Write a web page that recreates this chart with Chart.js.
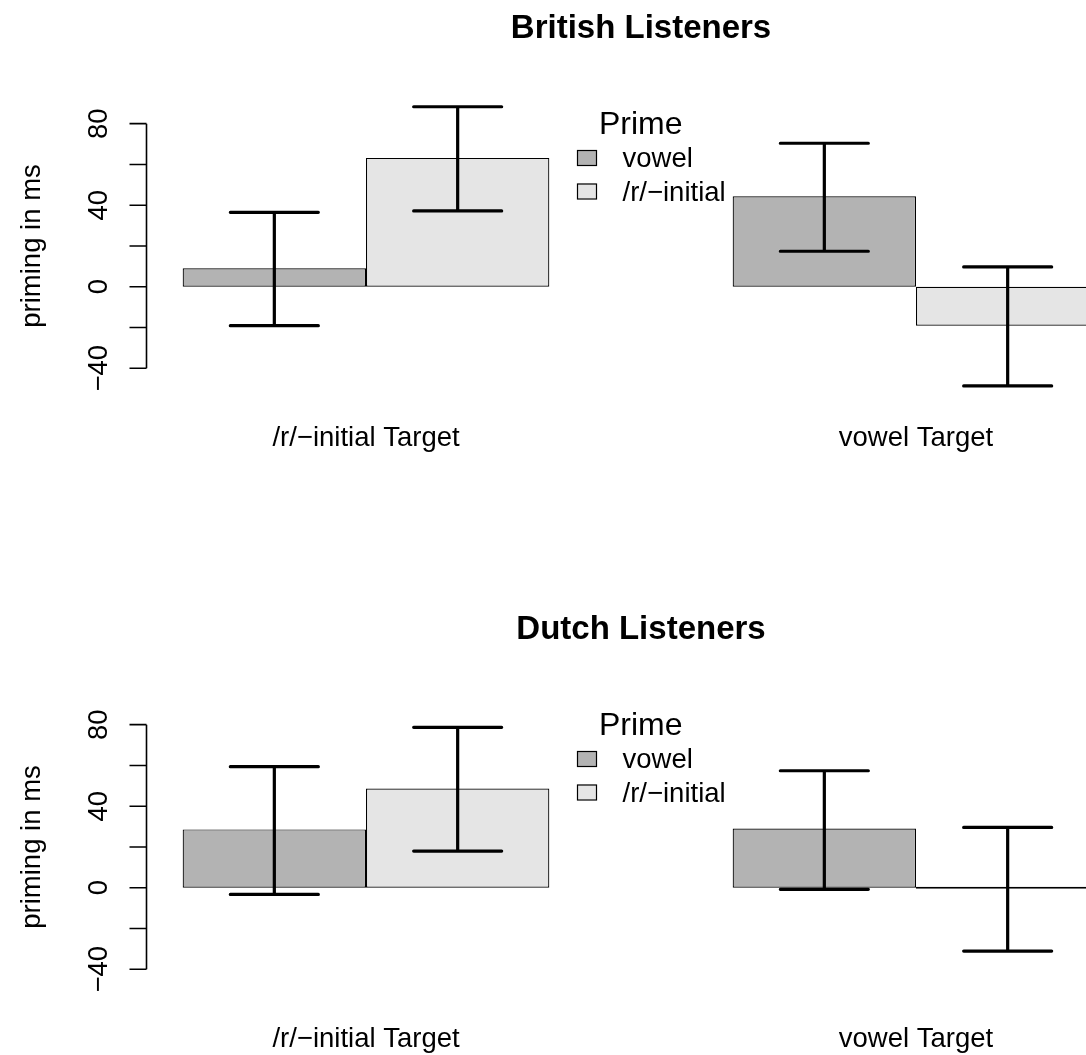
<!DOCTYPE html>
<html>
<head>
<meta charset="utf-8">
<script src="https://cdn.jsdelivr.net/npm/chart.js@4.4.1/dist/chart.umd.min.js"></script>
<style>
  html, body { margin: 0; padding: 0; background: #fff; overflow: hidden; }
  #page { position: relative; width: 1086px; height: 1055px; overflow: hidden; background: #fff; }
  #page canvas { position: absolute; left: 0; }
</style>
</head>
<body>
<div id="page">
  <canvas id="british" width="1278" height="601" style="top:0"></canvas>
  <canvas id="dutch" width="1278" height="601" style="top:601px"></canvas>
</div>
<script>
// categories (targets) and the two prime series
const targets = ['/r/\u2212initial Target', 'vowel Target'];
const primes = ['vowel', '/r/\u2212initial'];
const primeColors = ['#b3b3b3', '#e5e5e5'];

// British listeners: mean priming in ms, plus error bar ends
const britishVowel = [9.0, 44.4];
const britishR = [63.2, -19.1];
const britishVowelLow = [-19.1, 17.4];
const britishVowelHigh = [36.5, 70.4];
const britishRLow = [37.2, -48.7];
const britishRHigh = [88.3, 9.7];

// Dutch listeners
const dutchVowel = [28.6, 29.0];
const dutchR = [48.7, 0];
const dutchVowelLow = [-3.3, -0.8];
const dutchVowelHigh = [59.4, 57.4];
const dutchRLow = [18.0, -31.1];
const dutchRHigh = [78.7, 29.6];

// y axis ticks (R only prints every second label)
const yTicks = [-40, -20, 0, 20, 40, 60, 80];
const yTickLabels = ['\u221240', '', '0', '', '40', '', '80'];

const FONT = '"Liberation Sans", Arial, Helvetica, sans-serif';
Chart.defaults.font.family = FONT;
Chart.defaults.color = '#000';

// error bars drawn on top of each bar
const errorBars = {
  id: 'errorBars',
  afterDatasetsDraw(chart) {
    const ctx = chart.ctx;
    const y = chart.scales.y;
    ctx.save();
    ctx.strokeStyle = '#000';
    ctx.lineWidth = 3.2;
    ctx.lineCap = 'round';
    chart.data.datasets.forEach((ds, i) => {
      chart.getDatasetMeta(i).data.forEach((bar, j) => {
        const lo = y.getPixelForValue(ds.errLow[j]);
        const hi = y.getPixelForValue(ds.errHigh[j]);
        const half = bar.width * 0.24;
        ctx.beginPath();
        ctx.moveTo(bar.x, lo); ctx.lineTo(bar.x, hi);
        ctx.moveTo(bar.x - half, lo); ctx.lineTo(bar.x + half, lo);
        ctx.moveTo(bar.x - half, hi); ctx.lineTo(bar.x + half, hi);
        ctx.stroke();
      });
    });
    ctx.restore();
  }
};

// R style y axis: short line from -40 to 80, rotated labels
const rAxis = {
  id: 'rAxis',
  afterDraw(chart) {
    const { ctx, chartArea } = chart;
    const x = chart.scales.x, y = chart.scales.y;
    const step = x.getPixelForValue(1) - x.getPixelForValue(0);
    const ax = Math.round(x.getPixelForValue(0) - step * 0.4) + 0.5;
    ctx.save();
    ctx.strokeStyle = '#000';
    ctx.lineWidth = 1.6;
    ctx.beginPath();
    ctx.moveTo(ax, y.getPixelForValue(yTicks[0]));
    ctx.lineTo(ax, y.getPixelForValue(yTicks[yTicks.length - 1]));
    yTicks.forEach(v => {
      const py = y.getPixelForValue(v);
      ctx.moveTo(ax, py);
      ctx.lineTo(ax - 17, py);
    });
    ctx.stroke();

    ctx.fillStyle = '#000';
    ctx.font = '27.5px ' + FONT;
    ctx.textAlign = 'center';
    ctx.textBaseline = 'alphabetic';
    yTicks.forEach((v, i) => {
      if (!yTickLabels[i]) return;
      ctx.save();
      ctx.translate(ax - 40, y.getPixelForValue(v));
      ctx.rotate(-Math.PI / 2);
      ctx.fillText(yTickLabels[i], 0, 0);
      ctx.restore();
    });
    ctx.save();
    ctx.translate(ax - 107, (chartArea.top + chartArea.bottom) / 2);
    ctx.rotate(-Math.PI / 2);
    ctx.fillText('priming in ms', 0, 0);
    ctx.restore();
    ctx.restore();
  }
};

// legend with "Prime" title, placed inside the plot like R's legend()
const primeLegend = {
  id: 'primeLegend',
  afterDatasetsDraw(chart) {
    const ctx = chart.ctx;
    const left = 577, top = 133.5;
    ctx.save();
    ctx.fillStyle = '#000';
    ctx.textAlign = 'left';
    ctx.textBaseline = 'alphabetic';
    ctx.font = '32px ' + FONT;
    ctx.fillText('Prime', left + 22, top);
    ctx.font = '27.5px ' + FONT;
    chart.data.datasets.forEach((ds, i) => {
      const base = top + 33.5 * (i + 1);
      ctx.fillStyle = ds.backgroundColor;
      ctx.fillRect(left, base - 17, 19, 15);
      ctx.strokeStyle = '#000';
      ctx.lineWidth = 1.2;
      ctx.strokeRect(left + 0.5, base - 16.5, 19, 15);
      ctx.fillStyle = '#000';
      ctx.fillText(ds.label, left + 45.5, base);
    });
    ctx.restore();
  }
};

function makeChart(id, title, vowel, r, vLow, vHigh, rLow, rHigh) {
  const bars = [vowel, r];
  const lows = [vLow, rLow];
  const highs = [vHigh, rHigh];
  return new Chart(document.getElementById(id), {
    type: 'bar',
    data: {
      labels: targets,
      datasets: primes.map((p, i) => ({
        label: p,
        data: bars[i],
        errLow: lows[i],
        errHigh: highs[i],
        backgroundColor: primeColors[i],
        borderColor: '#000',
        borderWidth: 1.2,
        borderSkipped: false,
        minBarLength: 2,
        barPercentage: 1,
        categoryPercentage: 2 / 3
      }))
    },
    options: {
      responsive: false,
      animation: false,
      layout: { padding: { left: 91, right: 87, top: 0, bottom: 0 } },
      plugins: {
        legend: { display: false },
        tooltip: { enabled: false },
        title: {
          display: true,
          text: title,
          color: '#000',
          font: { size: 33, weight: 'bold' },
          padding: { top: 9, bottom: 44.5 }
        }
      },
      scales: {
        x: {
          type: 'category',
          offset: true,
          grid: { display: false, drawTicks: false },
          border: { display: false },
          ticks: { color: '#000', font: { size: 27.5 }, padding: 23, maxRotation: 0, autoSkip: false },
          afterFit(scale) { scale.height = 202.2; }
        },
        y: {
          display: false,
          min: -55,
          max: 95
        }
      }
    },
    plugins: [errorBars, rAxis, primeLegend]
  });
}

makeChart('british', 'British Listeners', britishVowel, britishR,
  britishVowelLow, britishVowelHigh, britishRLow, britishRHigh);
makeChart('dutch', 'Dutch Listeners', dutchVowel, dutchR,
  dutchVowelLow, dutchVowelHigh, dutchRLow, dutchRHigh);
</script>
</body>
</html>
